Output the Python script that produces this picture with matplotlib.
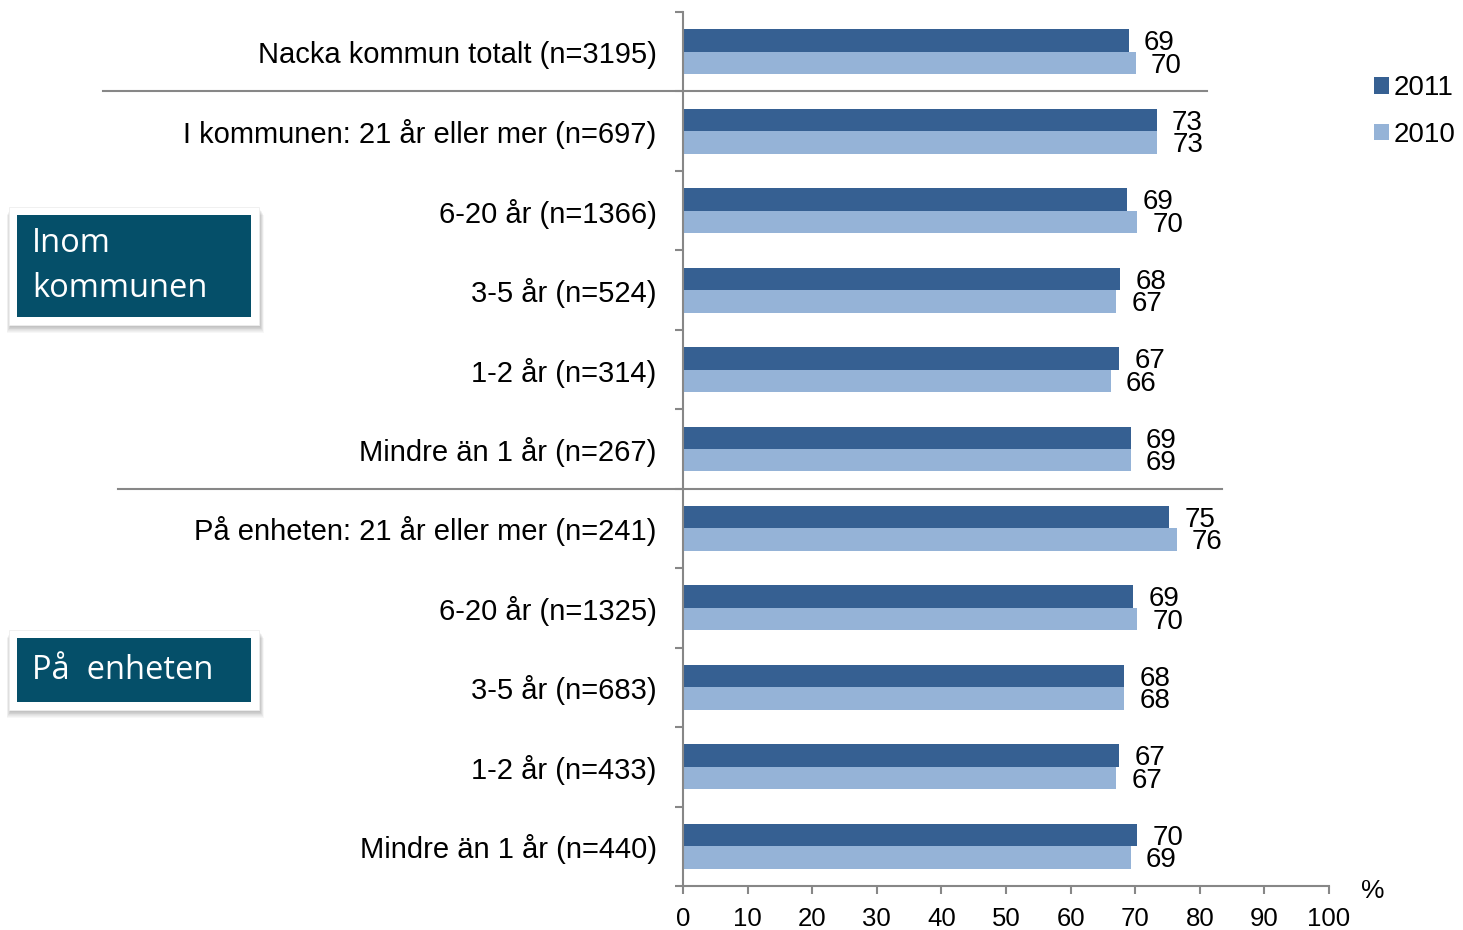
import numpy as np
import matplotlib
matplotlib.use('Agg')
import matplotlib.pyplot as plt
from matplotlib.patches import Rectangle
from matplotlib.lines import Line2D
from matplotlib.transforms import blended_transform_factory

plt.rcParams['font.family'] = ['Liberation Sans', 'DejaVu Sans']

categories = [
    'Nacka kommun totalt (n=3195)',
    'I kommunen: 21 år eller mer (n=697)',
    '6-20 år (n=1366)',
    '3-5 år (n=524)',
    '1-2 år (n=314)',
    'Mindre än 1 år (n=267)',
    'På enheten: 21 år eller mer (n=241)',
    '6-20 år (n=1325)',
    '3-5 år (n=683)',
    '1-2 år (n=433)',
    'Mindre än 1 år (n=440)',
]
values_2011 = [69.0, 73.3, 68.8, 67.7, 67.5, 69.3, 75.3, 69.7, 68.3, 67.5, 70.3]
values_2010 = [70.1, 73.4, 70.3, 67.1, 66.2, 69.3, 76.4, 70.3, 68.3, 67.1, 69.3]
labels_2011 = [69, 73, 69, 68, 67, 69, 75, 69, 68, 67, 70]
labels_2010 = [70, 73, 70, 67, 66, 69, 76, 70, 68, 67, 69]
x_ticks = list(range(0, 101, 10))

W, H = 1463, 930
DARK = '#366092'
LIGHT = '#95b3d7'
GRAY = '#878787'
TEAL = '#054f69'

fig = plt.figure(figsize=(W / 100, H / 100), dpi=100)
ax = fig.add_axes([683 / W, 1 - 886 / H, (1329 - 683) / W, (886 - 12) / H])

y = np.arange(len(categories))
h = 0.283
b11 = ax.barh(y - h / 2, values_2011, height=h, color=DARK, label='2011')
b10 = ax.barh(y + h / 2, values_2010, height=h, color=LIGHT, label='2010')

for yi, v, lab in zip(y, values_2011, labels_2011):
    ax.annotate(str(lab), (v, yi - h / 2), xytext=(11, -2), textcoords='offset points',
                ha='left', va='center', fontsize=20)
for yi, v, lab in zip(y, values_2010, labels_2010):
    ax.annotate(str(lab), (v, yi + h / 2), xytext=(11, -2), textcoords='offset points',
                ha='left', va='center', fontsize=20)

ax.set_xlim(0, 100)
ax.set_ylim(len(categories) - 0.5, -0.5)
ax.set_xticks(x_ticks)
ax.set_xticklabels([str(t) for t in x_ticks], fontsize=18.5)
ax.set_yticks(y)
ax.set_yticklabels(categories, fontsize=21)
ax.set_yticks(np.arange(len(categories) + 1) - 0.5, minor=True)
ax.tick_params(axis='y', which='major', length=0, pad=19)
ax.tick_params(axis='y', which='minor', length=6, width=1.5, color=GRAY, direction='out')
ax.tick_params(axis='x', length=6, width=1.5, color=GRAY, direction='out', pad=9)
for s in ['top', 'right']:
    ax.spines[s].set_visible(False)
for s in ['left', 'bottom']:
    ax.spines[s].set_color(GRAY)
    ax.spines[s].set_linewidth(1.5)

# separator lines between groups
tr = blended_transform_factory(fig.transFigure, ax.transData)
for yy, x0, x1 in [(0.5, 103, 1207), (5.5, 118, 1222)]:
    fig.add_artist(Line2D([x0 / W, x1 / W], [yy, yy], transform=tr, color=GRAY, lw=1.5))

fig.text(1373 / W, 1 - 891 / H, '%', ha='center', va='center', fontsize=19)

fig.legend(handles=[b11, b10], loc='upper left', bbox_to_anchor=(1363 / W, 1 - 64 / H),
           frameon=False, fontsize=20, handlelength=0.55, handleheight=0.55,
           handletextpad=0.15, labelspacing=0.75, borderaxespad=0)


def group_box(x0, y0, x1, y1, text):
    # soft shadow
    for k in range(8):
        fig.add_artist(Rectangle(((x0 - 8 + 1 - k * 0.5) / W, 1 - (y1 + 8 + 2 + k * 0.8) / H),
                                 (x1 - x0 + 16 + k) / W, (y1 - y0 + 16) / H,
                                 transform=fig.transFigure, color='black', alpha=0.03, lw=0))
    fig.add_artist(Rectangle(((x0 - 8) / W, 1 - (y1 + 8) / H), (x1 - x0 + 16) / W,
                             (y1 - y0 + 16) / H, transform=fig.transFigure,
                             facecolor='white', edgecolor='#eeeeee', lw=0.6))
    fig.add_artist(Rectangle((x0 / W, 1 - y1 / H), (x1 - x0) / W, (y1 - y0) / H,
                             transform=fig.transFigure, color=TEAL, lw=0))
    fig.text((x0 + 15) / W, 1 - (y0 + y1) / 2 / H, text, ha='left', va='center',
             color='white', fontsize=23.5, family='Open Sans', linespacing=1.5)


group_box(17, 215, 251, 317, 'Inom\nkommunen')
group_box(17, 638, 251, 702, 'På  enheten')

fig.savefig('out.png', dpi=100)
